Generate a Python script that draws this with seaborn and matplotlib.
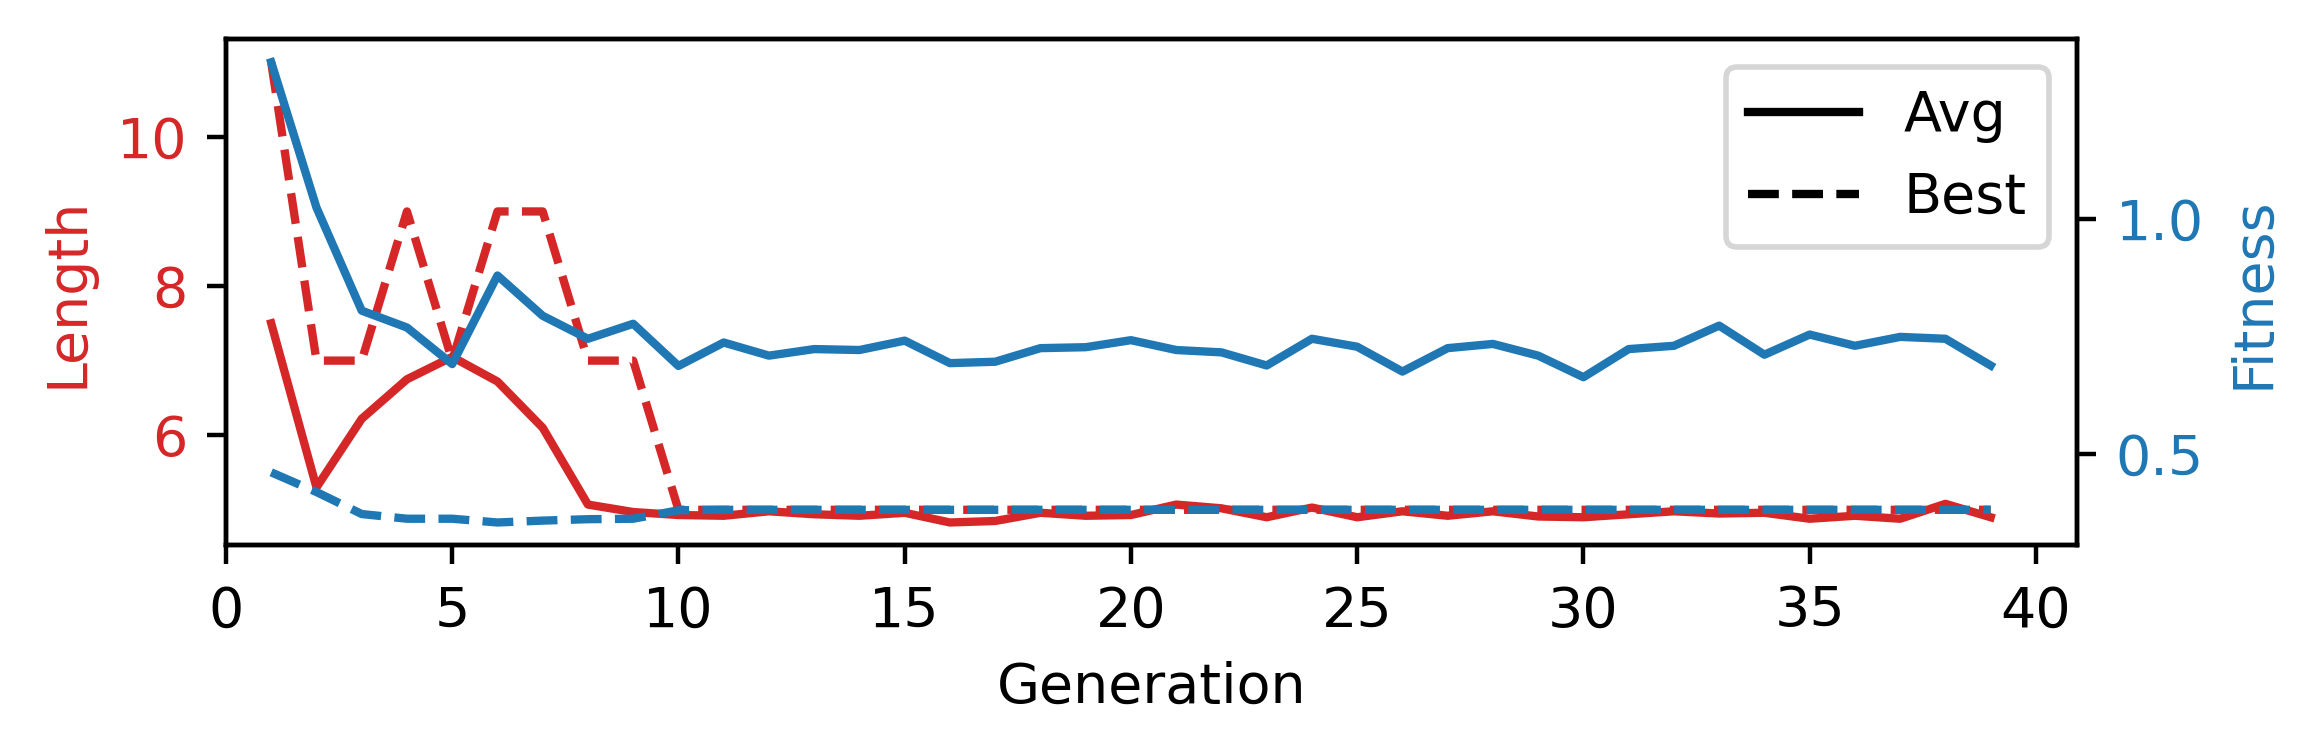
import numpy as np
import pandas as pd
import matplotlib
matplotlib.use("Agg")
import matplotlib.pyplot as plt
from matplotlib.lines import Line2D
import seaborn as sns

generation = list(range(1, 40))

length_avg = [7.5, 5.3, 6.22, 6.75, 7.05, 6.72, 6.1, 5.07, 4.97, 4.93,
              4.92, 4.98, 4.94, 4.92, 4.96, 4.83, 4.85, 4.96, 4.92, 4.93,
              5.07, 5.02, 4.9, 5.03, 4.9, 4.98, 4.92, 4.98, 4.91, 4.9,
              4.94, 4.98, 4.95, 4.96, 4.88, 4.92, 4.88, 5.08, 4.9]
length_best = [11, 7, 7, 9, 7, 9, 9, 7, 7, 5,
               5, 5, 5, 5, 5, 5, 5, 5, 5, 5,
               5, 5, 5, 5, 5, 5, 5, 5, 5, 5,
               5, 5, 5, 5, 5, 5, 5, 5, 5]

fitness_avg = [1.335, 1.025, 0.805, 0.769, 0.691, 0.88, 0.794, 0.745, 0.777, 0.687,
               0.737, 0.709, 0.723, 0.721, 0.741, 0.693, 0.696, 0.725, 0.727, 0.742,
               0.721, 0.716, 0.688, 0.745, 0.728, 0.675, 0.725, 0.734, 0.709, 0.663,
               0.723, 0.73, 0.773, 0.711, 0.754, 0.73, 0.749, 0.745, 0.688]
fitness_best = [0.46, 0.418, 0.371, 0.361, 0.361, 0.353, 0.357, 0.36, 0.361, 0.379,
                0.38, 0.38, 0.38, 0.38, 0.38, 0.38, 0.38, 0.38, 0.38, 0.38,
                0.38, 0.38, 0.38, 0.38, 0.38, 0.38, 0.38, 0.38, 0.38, 0.38,
                0.38, 0.38, 0.38, 0.38, 0.38, 0.38, 0.38, 0.38, 0.38]

df = pd.DataFrame({'generation': generation,
                   'length_avg': length_avg, 'length_best': length_best,
                   'fitness_avg': fitness_avg, 'fitness_best': fitness_best})

red = 'tab:red'
blue = 'tab:blue'

fig, ax = plt.subplots(figsize=(5.8, 1.8875), dpi=400)
fig.subplots_adjust(left=0.0974, right=0.8951, top=0.948, bottom=0.2775)

sns.lineplot(x='generation', y='length_avg', data=df, ax=ax, color=red, linestyle='-')
sns.lineplot(x='generation', y='length_best', data=df, ax=ax, color=red, linestyle='--')
ax.set_xlabel('Generation')
ax.set_ylabel('Length', color=red)
ax.tick_params(axis='y', labelcolor=red)
ax.set_xlim(left=0)
ax.set_xticks(range(0, 41, 5))

ax2 = ax.twinx()
sns.lineplot(x='generation', y='fitness_avg', data=df, ax=ax2, color=blue, linestyle='-')
sns.lineplot(x='generation', y='fitness_best', data=df, ax=ax2, color=blue, linestyle='--')
ax2.set_ylabel('Fitness', color=blue)
ax2.tick_params(axis='y', labelcolor=blue)
ax2.set_yticks([0.5, 1.0])

handles = [Line2D([0], [0], color='black', linestyle='-'),
           Line2D([0], [0], color='black', linestyle='--')]
ax2.legend(handles, ['Avg', 'Best'], loc='upper right')

fig.savefig('out.png', dpi=400)
